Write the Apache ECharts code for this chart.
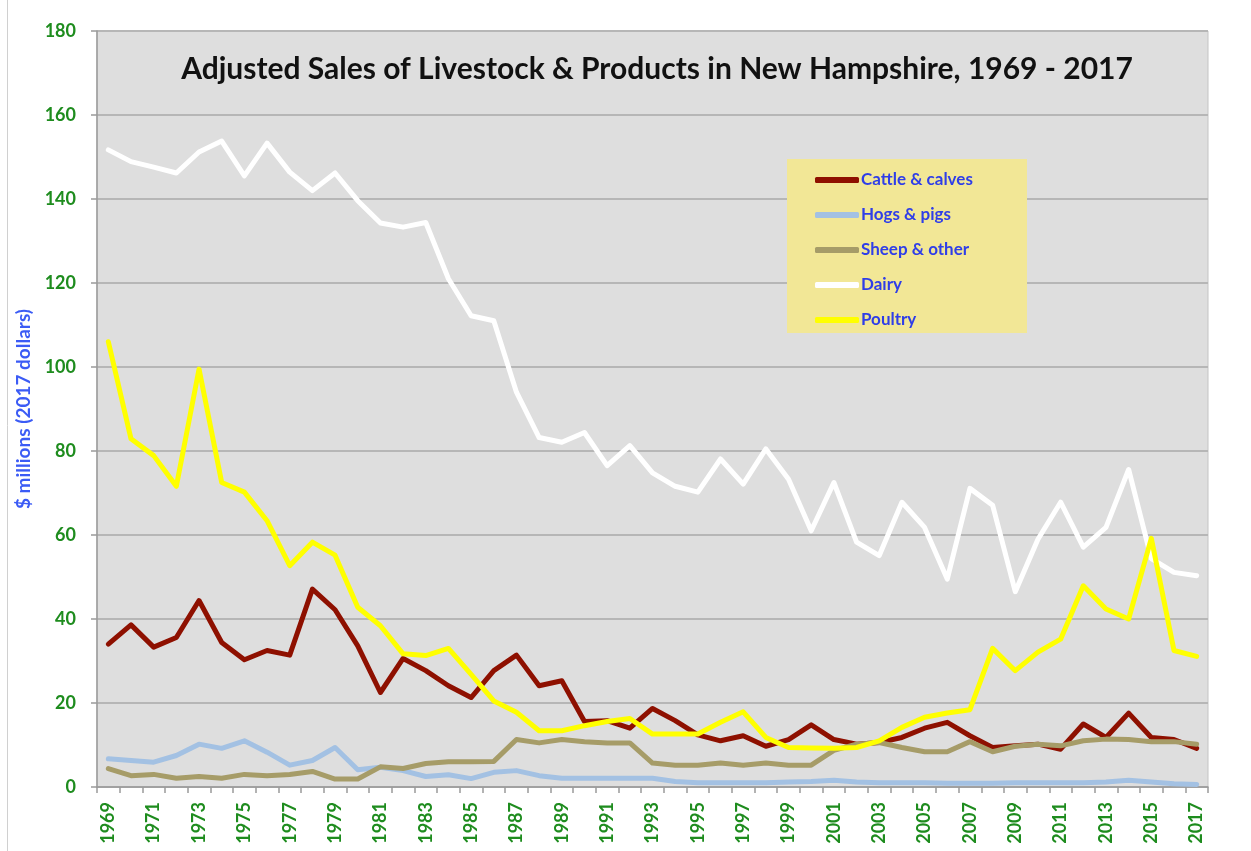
<!DOCTYPE html>
<html>
<head>
<meta charset="utf-8">
<script src="https://cdn.jsdelivr.net/npm/echarts@6/dist/echarts.min.js"></script>
<style>html,body{margin:0;padding:0;background:#fff}#c{width:1251px;height:851px}</style>
</head>
<body>
<div id="c"></div>
<script>
const years = ['1969','1970','1971','1972','1973','1974','1975','1976','1977','1978','1979','1980','1981','1982','1983','1984','1985','1986','1987','1988','1989','1990','1991','1992','1993','1994','1995','1996','1997','1998','1999','2000','2001','2002','2003','2004','2005','2006','2007','2008','2009','2010','2011','2012','2013','2014','2015','2016','2017'];

const cattle = [34.0,38.6,33.3,35.6,44.4,34.4,30.3,32.5,31.4,47.1,42.2,33.6,22.5,30.6,27.7,24.1,21.3,27.7,31.4,24.1,25.3,15.6,15.8,14.0,18.7,15.8,12.4,11.0,12.2,9.7,11.3,14.8,11.3,10.2,10.6,11.8,14.0,15.4,12.2,9.4,9.8,10.2,9.0,15.0,11.8,17.6,11.8,11.3,9.2];
const hogs = [6.7,6.3,5.9,7.5,10.2,9.2,11.0,8.3,5.2,6.3,9.4,4.1,4.7,3.9,2.5,2.9,2.0,3.5,3.9,2.7,2.1,2.1,2.1,2.1,2.1,1.3,1.0,1.0,1.0,1.0,1.2,1.3,1.6,1.2,1.0,1.0,1.0,0.9,0.9,0.9,1.0,1.0,1.0,1.0,1.2,1.6,1.2,0.8,0.6];
const sheep = [4.4,2.7,3.0,2.1,2.5,2.1,3.0,2.7,3.0,3.7,1.9,1.9,4.8,4.4,5.6,6.0,6.0,6.1,11.3,10.5,11.3,10.8,10.5,10.5,5.7,5.2,5.2,5.7,5.2,5.7,5.2,5.2,8.7,10.2,10.6,9.4,8.4,8.4,10.8,8.4,9.7,10.2,9.8,11.0,11.4,11.3,10.8,10.8,10.2];
const dairy = [151.7,148.9,147.6,146.2,151.2,153.8,145.5,153.3,146.4,142.0,146.2,139.6,134.3,133.3,134.4,121.0,112.2,111.0,94.0,83.2,82.1,84.4,76.5,81.3,74.8,71.6,70.2,78.1,72.1,80.5,73.3,61.0,72.5,58.3,55.1,67.8,61.8,49.5,71.1,67.1,46.5,59.0,67.8,57.1,61.8,75.6,54.4,51.1,50.3];
const poultry = [106.0,82.9,78.9,71.6,99.5,72.5,70.2,63.4,52.7,58.3,55.2,42.8,38.4,31.7,31.3,33.0,26.8,20.5,17.8,13.4,13.4,14.6,15.6,16.3,12.6,12.6,12.6,15.4,17.9,11.8,9.4,9.3,9.2,9.4,11.0,14.2,16.6,17.6,18.4,33.0,27.7,32.1,35.2,47.9,42.4,40.0,59.2,32.5,31.1];

const seriesNames = ['Cattle & calves','Hogs & pigs','Sheep & other','Dairy','Poultry'];
const seriesColors = ['#8E1000','#A3C1E3','#A69C68','#FFFFFF','#FFFF00'];
const seriesData = [cattle, hogs, sheep, dairy, poultry];

const chart = echarts.init(document.getElementById('c'), null, {renderer:'canvas'});
const FONT = 'Lato';

chart.setOption({
  backgroundColor:'#ffffff',
  animation:false,
  title:{
    text:'Adjusted Sales of Livestock & Products in New Hampshire, 1969 - 2017',
    left:652, top:49, textAlign:'center',
    textStyle:{fontFamily:FONT, fontSize:30, fontWeight:'bold', color:'#111111'}
  },
  graphic:[
    {type:'line', shape:{x1:7.5,y1:0,x2:7.5,y2:851}, style:{stroke:'#D0D0D0', lineWidth:1}, z:0},
    {type:'rect', shape:{x:787,y:159,width:240,height:174}, style:{fill:'#F2E796'}, z:5}
  ],
  legend:{
    orient:'vertical', left:810, top:165, itemGap:15, itemWidth:44, itemHeight:6,
    icon:'roundRect',
    textStyle:{fontFamily:FONT, fontSize:17, fontWeight:'bold', color:'#2F3EE8', lineHeight:20, padding:[0,0,0,-3]},
    data: seriesNames.map((n,i)=>({name:n, itemStyle:{color:seriesColors[i]}})),
    z:6
  },
  grid:{left:97, top:31, right:43, bottom:64, show:true, backgroundColor:'#DEDEDE', borderColor:'#C4C4C4', borderWidth:1},
  xAxis:{
    type:'category', data:years, boundaryGap:true,
    axisLine:{lineStyle:{color:'#9A9A9A', width:1.5}},
    axisTick:{show:true, interval:0, length:6, lineStyle:{color:'#9A9A9A', width:1.5}},
    axisLabel:{interval:1, rotate:90, color:'#1E8C1E', fontFamily:FONT, fontSize:18, fontWeight:'bold', margin:15}
  },
  yAxis:{
    type:'value', min:0, max:180, interval:20,
    name:'$ millions (2017 dollars)', nameLocation:'middle', nameGap:64, nameRotate:90,
    nameTextStyle:{color:'#3B5BF5', fontFamily:FONT, fontSize:19, fontWeight:'bold'},
    axisLine:{show:true, lineStyle:{color:'#9A9A9A', width:1.5}},
    axisTick:{show:true, length:6, lineStyle:{color:'#9A9A9A', width:1.5}},
    axisLabel:{color:'#1E8C1E', fontFamily:FONT, fontSize:18, fontWeight:'bold', margin:21},
    splitLine:{lineStyle:{color:'#B6B6B6', width:2}}
  },
  series: seriesNames.map((n,i)=>({
    name:n, type:'line', data:seriesData[i], symbol:'none', smooth:false,
    lineStyle:{color:seriesColors[i], width:5, join:'round', cap:'round'},
    itemStyle:{color:seriesColors[i]}, z:2+i
  }))
});
</script>
</body>
</html>
